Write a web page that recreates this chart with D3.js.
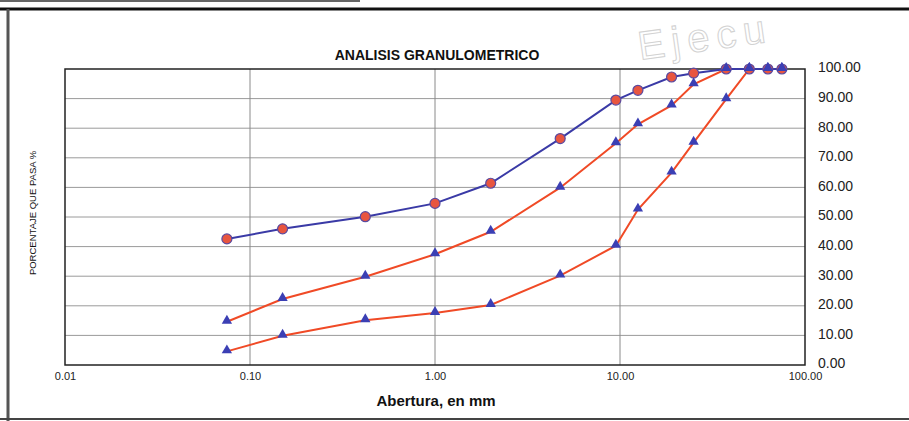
<!DOCTYPE html>
<html>
<head>
<meta charset="utf-8">
<script src="https://cdn.jsdelivr.net/npm/d3@7/dist/d3.min.js"></script>
<style>
  html, body { margin: 0; padding: 0; background: #ffffff; }
  svg { display: block; }
</style>
</head>
<body>
<svg id="chart" width="909" height="421"></svg>
<script>
// Sieve openings (mm) and percent passing for three gradation curves
const sieves = [0.075, 0.15, 0.42, 1.0, 2.0, 4.75, 9.5, 12.5, 19, 25, 37.5, 50, 63, 75];
const muestra = [42.6, 46.0, 50.1, 54.6, 61.4, 76.5, 89.5, 92.8, 97.3, 98.6, 100, 100, 100, 100];
const limiteSuperior = [14.6, 22.3, 29.8, 37.4, 45.0, 59.9, 74.9, 81.3, 87.7, 94.8, 100, 100, 100, 100];
const limiteInferior = [4.6, 9.9, 15.1, 17.6, 20.3, 30.2, 40.3, 52.5, 65.0, 75.1, 89.8, 100, 100, 100];
const xTicks = [0.01, 0.1, 1, 10, 100];
const yTicks = [0, 10, 20, 30, 40, 50, 60, 70, 80, 90, 100];

const svg = d3.select("#chart");
const font = "'Liberation Sans', Arial, sans-serif";

const plotL = 65, plotR = 805, plotT = 69, plotB = 365;
const x = d3.scaleLog().domain([0.01, 100]).range([plotL, plotR]);
const y = d3.scaleLinear().domain([0, 100]).range([plotB, plotT]);

// Page frame
svg.append("line").attr("x1", 0).attr("x2", 909).attr("y1", 9).attr("y2", 9)
  .attr("stroke", "#111").attr("stroke-width", 3);
svg.append("line").attr("x1", 0).attr("x2", 360).attr("y1", 1).attr("y2", 1)
  .attr("stroke", "#666").attr("stroke-width", 2);
svg.append("line").attr("x1", 8).attr("x2", 8).attr("y1", 9).attr("y2", 421)
  .attr("stroke", "#555").attr("stroke-width", 3);
svg.append("line").attr("x1", 0).attr("x2", 909).attr("y1", 419).attr("y2", 419)
  .attr("stroke", "#444").attr("stroke-width", 2);

// Faint stamp in the background
svg.append("text")
  .attr("transform", "translate(640,60) rotate(-8)")
  .attr("font-family", font).attr("font-size", 40).attr("letter-spacing", 7)
  .attr("fill", "none").attr("stroke", "#d2d2d2").attr("stroke-width", 1)
  .text("Ejecu");

// Grid
const grid = svg.append("g");
grid.selectAll(".h").data(yTicks.slice(1, -1)).join("line")
  .attr("x1", plotL).attr("x2", plotR)
  .attr("y1", d => y(d)).attr("y2", d => y(d))
  .attr("stroke", "#9a9a9a").attr("stroke-width", 1);
grid.selectAll(".v").data(xTicks.slice(1, -1)).join("line")
  .attr("x1", d => x(d)).attr("x2", d => x(d))
  .attr("y1", plotT).attr("y2", plotB)
  .attr("stroke", "#8a8a8a").attr("stroke-width", 1);

// Plot border
svg.append("rect").attr("x", plotL).attr("y", plotT)
  .attr("width", plotR - plotL).attr("height", plotB - plotT)
  .attr("fill", "none").attr("stroke", "#222").attr("stroke-width", 1.5);

// Axes (labels only, right-hand percent axis)
const yAxis = d3.axisRight(y).tickValues(yTicks).tickFormat(d3.format(".2f")).tickSize(0).tickPadding(13);
const gy = svg.append("g").attr("transform", `translate(${plotR},0)`).call(yAxis);
gy.select(".domain").remove();
gy.selectAll("text").attr("font-family", font).attr("font-size", 14).attr("fill", "#222").attr("dy", "0.2em");

const xAxis = d3.axisBottom(x).tickValues(xTicks).tickFormat(d3.format(".2f")).tickSize(0).tickPadding(7);
const gx = svg.append("g").attr("transform", `translate(0,${plotB})`).call(xAxis);
gx.select(".domain").remove();
gx.selectAll("text").attr("font-family", font).attr("font-size", 11).attr("fill", "#222");

// Titles
svg.append("text").attr("x", 437).attr("y", 60).attr("text-anchor", "middle")
  .attr("font-family", font).attr("font-size", 14).attr("font-weight", "bold").attr("fill", "#111")
  .text("ANALISIS GRANULOMETRICO");
svg.append("text").attr("x", 436).attr("y", 406).attr("text-anchor", "middle")
  .attr("font-family", font).attr("font-size", 15).attr("font-weight", "bold").attr("fill", "#111")
  .text("Abertura, en mm");
svg.append("text").attr("transform", "translate(36,213) rotate(-90)").attr("text-anchor", "middle")
  .attr("font-family", font).attr("font-size", 9.5).attr("fill", "#111")
  .text("PORCENTAJE QUE PASA %");

// Curves
const line = d3.line().x(d => x(d[0])).y(d => y(d[1]));
const pts = vals => sieves.map((s, i) => [s, vals[i]]);
const tri = d3.symbol().type(d3.symbolTriangle).size(46);

[limiteInferior, limiteSuperior].forEach(vals => {
  svg.append("path").datum(pts(vals)).attr("d", line)
    .attr("fill", "none").attr("stroke", "#f04a26").attr("stroke-width", 2);
});
svg.append("path").datum(pts(muestra)).attr("d", line)
  .attr("fill", "none").attr("stroke", "#3a3aa6").attr("stroke-width", 2);

svg.append("g").selectAll("circle").data(pts(muestra)).join("circle")
  .attr("cx", d => x(d[0])).attr("cy", d => y(d[1])).attr("r", 5)
  .attr("fill", "#e8553f").attr("stroke", "#5a4aa0").attr("stroke-width", 1.2);

[limiteInferior, limiteSuperior].forEach(vals => {
  svg.append("g").selectAll("path").data(pts(vals)).join("path")
    .attr("d", tri)
    .attr("transform", d => `translate(${x(d[0])},${y(d[1]) - 1})`)
    .attr("fill", "#3b3fb4");
});
</script>
</body>
</html>
